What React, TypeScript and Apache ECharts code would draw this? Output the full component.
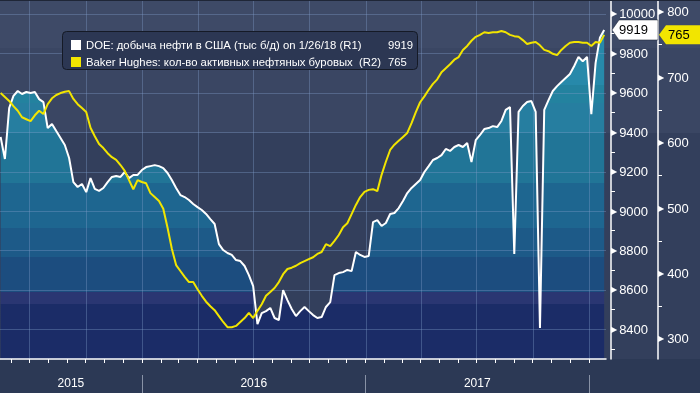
import React, { useEffect, useRef } from "react";
import * as echarts from "echarts";

const W = 700;
const H = 393;
const GRID = { left: 0, right: 94, top: 0, bottom: 34 };
const R1_OFFSET = 5;
const R2_OFFSET = 52;

const FIRST_WEEK = "2015-05-15";
const X_START = "2015-05-14";
const X_END = "2018-01-29";

// DOE weekly US crude production, thousand b/d (R1)
const doeProduction = [
  9376, 9264, 9523, 9584, 9609, 9594, 9604, 9599, 9604, 9568,
  9553, 9421, 9442, 9406, 9371, 9335, 9269, 9147, 9122, 9137,
  9096, 9167, 9112, 9102, 9117, 9147, 9173, 9178, 9173, 9198,
  9167, 9183, 9183, 9208, 9223, 9228, 9233, 9228, 9218, 9193,
  9157, 9117, 9081, 9071, 9056, 9036, 9020, 9005, 8985, 8959,
  8934, 8832, 8802, 8787, 8777, 8751, 8746, 8721, 8675, 8619,
  8426, 8482, 8492, 8508, 8457, 8447, 8599, 8548, 8503, 8467,
  8492, 8513, 8492, 8472, 8457, 8462, 8513, 8538, 8675, 8685,
  8690, 8701, 8695, 8792, 8777, 8767, 8772, 8944, 8954, 8924,
  8939, 8985, 8990, 9015, 9051, 9091, 9117, 9137, 9157, 9198,
  9228, 9259, 9269, 9284, 9315, 9305, 9325, 9335, 9325, 9345,
  9249, 9360, 9386, 9416, 9421, 9431, 9426, 9457, 9513, 9528,
  8782, 9503, 9533, 9553, 9558, 9503, 8406, 9513, 9563, 9609,
  9634, 9655, 9675, 9695, 9736, 9782, 9760, 9782, 9492, 9752,
  9879, 9919,
];

// Baker Hughes active oil rigs (R2)
const rigCount = [
  676, 670, 664, 656, 649, 639, 636, 633, 642, 649,
  644, 659, 668, 673, 676, 678, 679, 667, 659, 653,
  647, 623, 610, 598, 592, 584, 578, 574, 566, 557,
  543, 529, 543, 540, 538, 523, 517, 511, 499, 470,
  438, 413, 404, 395, 387, 387, 376, 366, 357, 350,
  344, 335, 326, 318, 318, 320, 326, 332, 340, 332,
  343, 353, 366, 372, 378, 387, 399, 407, 409, 412,
  416, 419, 422, 425, 430, 433, 445, 442, 450, 459,
  471, 477, 491, 505, 517, 525, 528, 529, 526, 551,
  571, 589, 597, 603, 609, 615, 630, 647, 662, 671,
  681, 690, 697, 708, 714, 720, 727, 731, 742, 748,
  756, 762, 765, 769, 768, 769, 769, 771, 769, 765,
  763, 762, 757, 751, 753, 754, 749, 742, 740, 736,
  734, 742, 748, 753, 754, 754, 753, 753, 748, 754,
  753, 765,
];

const r1Range = [8249, 10071];
const r2Range = [269.4, 818.3];
const r1Labels = [8400, 8600, 8800, 9000, 9200, 9400, 9600, 9800, 10000];
const r1Ticks = [8300, 8400, 8500, 8600, 8700, 8800, 8900, 9000, 9100, 9200, 9300, 9400, 9500, 9600, 9700, 9800, 9900, 10000];
const r2Labels = [300, 400, 500, 600, 700, 800];
const r2Ticks = [300, 350, 400, 450, 500, 550, 600, 650, 700, 750, 800];

const quarterStarts = [
  "2015-07-01", "2015-10-01", "2016-01-01", "2016-04-01", "2016-07-01", "2016-10-01",
  "2017-01-01", "2017-04-01", "2017-07-01", "2017-10-01", "2018-01-01",
];
const monthStarts = [
  "2015-06-01", "2015-07-01", "2015-08-01", "2015-09-01", "2015-10-01", "2015-11-01", "2015-12-01",
  "2016-01-01", "2016-02-01", "2016-03-01", "2016-04-01", "2016-05-01", "2016-06-01", "2016-07-01",
  "2016-08-01", "2016-09-01", "2016-10-01", "2016-11-01", "2016-12-01",
  "2017-01-01", "2017-02-01", "2017-03-01", "2017-04-01", "2017-05-01", "2017-06-01", "2017-07-01",
  "2017-08-01", "2017-09-01", "2017-10-01", "2017-11-01", "2017-12-01", "2018-01-01",
];
const yearBoundaries = ["2016-01-01", "2017-01-01", "2018-01-01"];
const yearNames = ["2015", "2016", "2017"];

const legendNames = [
  "DOE: добыча нефти в США (тыс б/д) on 1/26/18 (R1)",
  "Baker Hughes: кол-во активных нефтяных буровых  (R2)",
];

const WHITE = "#ffffff";
const YELLOW = "#f2e500";
const FONT = "'Liberation Sans', Arial, sans-serif";
const GRID_LINE = "rgba(125,155,200,0.38)";

const bgBands: [number, number, string][] = [
  [0, 48, "#3e4a67"],
  [48, 133, "#3a4663"],
  [133, 359, "#333f5c"],
  [359, 393, "#2c3955"],
];
const fillBands: [number, number, string][] = [
  [0, 85, "#2789aa"],
  [85, 103, "#23829f"],
  [103, 133, "#267ea0"],
  [133, 183, "#217597"],
  [183, 228, "#1e6690"],
  [228, 257, "#1d5a88"],
  [257, 292, "#1c4d7f"],
  [292, 304, "#2a3672"],
  [304, 393, "#1b2c67"],
];

const ms = (s: string) => Date.parse(s + "T00:00:00Z");
const DAY = 86400000;

function bandGradient(bands: [number, number, string][]) {
  const stops: { offset: number; color: string }[] = [];
  bands.forEach(([a, b, c]) => {
    stops.push({ offset: a / H, color: c });
    stops.push({ offset: b / H, color: c });
  });
  return new echarts.graphic.LinearGradient(0, 0, 0, H, stops, true);
}

export default function App() {
  const ref = useRef<HTMLDivElement>(null);

  useEffect(() => {
    const el = ref.current!;
    const chart = echarts.init(el, null, { renderer: "svg" });

    const weekMs = (i: number) => ms(FIRST_WEEK) + i * 7 * DAY;
    const doeData = doeProduction.map((v, i) => [weekMs(i), v]);
    const rigData = rigCount.map((v, i) => [weekMs(i), v]);

    const xMin = ms(X_START);
    const xMax = ms(X_END);
    const yearMids = yearNames.map((y) => {
      const a = Math.max(xMin, ms(`${y}-01-01`));
      const b = Math.min(xMax, ms(`${Number(y) + 1}-01-01`));
      return (a + b) / 2;
    });

    const yLabel = (pad: number) => ({
      margin: 0,
      formatter: (v: number) => `{t|▶}{v|${v}}`,
      rich: {
        t: { fontSize: 8, color: WHITE, fontFamily: "DejaVu Sans", padding: [0, pad, 0, 0] },
        v: { fontSize: 13, color: WHITE, fontFamily: FONT },
      },
    });

    const option: any = {
      animation: false,
      backgroundColor: "transparent",
      grid: { ...GRID, containLabel: false, outerBoundsMode: "none" },
      xAxis: [
        {
          type: "value",
          min: xMin,
          max: xMax,
          z: 7,
          axisLine: { show: true, lineStyle: { color: WHITE, width: 1.5 } },
          axisTick: {
            show: true,
            customValues: monthStarts.map(ms),
            length: 4,
            lineStyle: { color: WHITE, width: 1 },
          },
          axisLabel: { show: false },
          splitLine: { show: false },
        },
        {
          type: "value",
          min: xMin,
          max: xMax,
          position: "bottom",
          offset: 16,
          axisLine: { show: false },
          axisTick: {
            show: true,
            customValues: yearBoundaries.map(ms),
            length: 18,
            lineStyle: { color: "#8892a6", width: 1 },
          },
          axisLabel: {
            show: true,
            customValues: yearMids,
            margin: 2,
            color: WHITE,
            fontSize: 12,
            fontFamily: FONT,
            formatter: (v: number) => String(new Date(v).getUTCFullYear()),
          },
          splitLine: { show: false },
        },
      ],
      yAxis: [
        {
          type: "value",
          position: "right",
          offset: R1_OFFSET,
          min: r1Range[0],
          max: r1Range[1],
          axisLine: { show: true, lineStyle: { color: WHITE, width: 1.5 } },
          axisTick: { show: true, customValues: r1Ticks, length: 4, lineStyle: { color: WHITE } },
          axisLabel: { ...yLabel(2), customValues: r1Labels },
          splitLine: { show: false },
        },
        {
          type: "value",
          position: "right",
          offset: R2_OFFSET,
          min: r2Range[0],
          max: r2Range[1],
          axisLine: { show: true, lineStyle: { color: WHITE, width: 1.5 } },
          axisTick: { show: true, customValues: r2Ticks, length: 4, lineStyle: { color: WHITE } },
          axisLabel: { ...yLabel(3), customValues: r2Labels },
          splitLine: { show: false },
        },
      ],
      series: [
        {
          name: "fill",
          type: "line",
          z: 1,
          xAxisIndex: 0,
          yAxisIndex: 0,
          data: doeData,
          showSymbol: false,
          symbol: "none",
          silent: true,
          lineStyle: { width: 0, color: "rgba(0,0,0,0)" },
          areaStyle: { origin: "start", color: bandGradient(fillBands), opacity: 1 },
        },
        {
          name: legendNames[0],
          type: "line",
          z: 5,
          xAxisIndex: 0,
          yAxisIndex: 0,
          data: doeData,
          symbol: "none",
          lineStyle: { color: WHITE, width: 2 },
        },
        {
          name: legendNames[1],
          type: "line",
          z: 6,
          xAxisIndex: 0,
          yAxisIndex: 1,
          data: rigData,
          symbol: "none",
          lineStyle: { color: YELLOW, width: 2 },
        },
      ],
    };

    chart.setOption(option);

    const lastDoe = doeProduction[doeProduction.length - 1];
    const lastRig = rigCount[rigCount.length - 1];
    const y1 = chart.convertToPixel({ yAxisIndex: 0 } as any, lastDoe) as number;
    const y2 = chart.convertToPixel({ yAxisIndex: 1 } as any, lastRig) as number;
    const ax1 = W - GRID.right + R1_OFFSET;
    const ax2 = W - GRID.right + R2_OFFSET;
    const plotLeft = GRID.left;
    const plotRight = W - GRID.right;
    const plotTop = GRID.top;
    const plotBottom = H - GRID.bottom;

    const gridLines: any[] = [
      ...r1Labels.map((v) => {
        const y = Math.round(chart.convertToPixel({ yAxisIndex: 0 } as any, v) as number);
        return {
          type: "rect",
          z: 3,
          silent: true,
          shape: { x: plotLeft, y: y, width: plotRight - plotLeft, height: 1 },
          style: { fill: GRID_LINE },
        };
      }),
      ...quarterStarts.map((d) => {
        const x = Math.round(chart.convertToPixel({ xAxisIndex: 0 } as any, ms(d)) as number);
        return {
          type: "rect",
          z: 3,
          silent: true,
          shape: { x: x, y: plotTop, width: 1, height: plotBottom - plotTop },
          style: { fill: GRID_LINE },
        };
      }),
    ];

    const graphic: any[] = [
      {
        type: "rect",
        z: -10,
        silent: true,
        shape: { x: 0, y: 0, width: W, height: H },
        style: { fill: bandGradient(bgBands) },
      },
      ...gridLines,
      {
        type: "rect",
        z: 50,
        silent: true,
        shape: { x: 0, y: 0, width: W, height: 1 },
        style: { fill: "#1f2637" },
      },
      {
        type: "rect",
        z: 50,
        shape: { x: 62.5, y: 31.5, width: 355, height: 38, r: 4 },
        style: { fill: "#2c3753", stroke: "#151a26", lineWidth: 1 },
      },
      {
        type: "rect",
        z: 51,
        shape: { x: 71, y: 40, width: 10, height: 10 },
        style: { fill: WHITE },
      },
      {
        type: "rect",
        z: 51,
        shape: { x: 71, y: 57, width: 10, height: 10 },
        style: { fill: YELLOW },
      },
      {
        type: "text",
        z: 51,
        x: 86,
        y: 45,
        style: { text: legendNames[0], fill: WHITE, fontSize: 11.3, fontFamily: FONT, verticalAlign: "middle" },
      },
      {
        type: "text",
        z: 51,
        x: 86,
        y: 62,
        style: { text: legendNames[1], fill: WHITE, fontSize: 11.3, fontFamily: FONT, verticalAlign: "middle" },
      },
      {
        type: "text",
        z: 51,
        x: 388,
        y: 45,
        style: { text: String(lastDoe), fill: WHITE, fontSize: 11.3, fontFamily: FONT, verticalAlign: "middle" },
      },
      {
        type: "text",
        z: 51,
        x: 388,
        y: 62,
        style: { text: String(lastRig), fill: WHITE, fontSize: 11.3, fontFamily: FONT, verticalAlign: "middle" },
      },
      {
        type: "polygon",
        z: 60,
        shape: {
          points: [
            [ax1 + 1, y1],
            [ax1 + 8, y1 - 10],
            [ax1 + 47, y1 - 10],
            [ax1 + 47, y1 + 10],
            [ax1 + 8, y1 + 10],
          ],
        },
        style: { fill: WHITE, stroke: "#1a2030", lineWidth: 0.5 },
      },
      {
        type: "text",
        z: 61,
        x: ax1 + 8,
        y: y1,
        style: { text: String(lastDoe), fill: "#000", fontSize: 13, fontFamily: FONT, verticalAlign: "middle" },
      },
      {
        type: "polygon",
        z: 60,
        shape: {
          points: [
            [ax2 + 1, y2],
            [ax2 + 8, y2 - 9.5],
            [W, y2 - 9.5],
            [W, y2 + 9.5],
            [ax2 + 8, y2 + 9.5],
          ],
        },
        style: { fill: YELLOW },
      },
      {
        type: "text",
        z: 61,
        x: ax2 + 10,
        y: y2,
        style: { text: String(lastRig), fill: "#000", fontSize: 13, fontFamily: FONT, verticalAlign: "middle" },
      },
    ];

    chart.setOption({ graphic });

    return () => chart.dispose();
  }, []);

  return <div ref={ref} style={{ position: "fixed", left: 0, top: 0, width: W, height: H }} />;
}
